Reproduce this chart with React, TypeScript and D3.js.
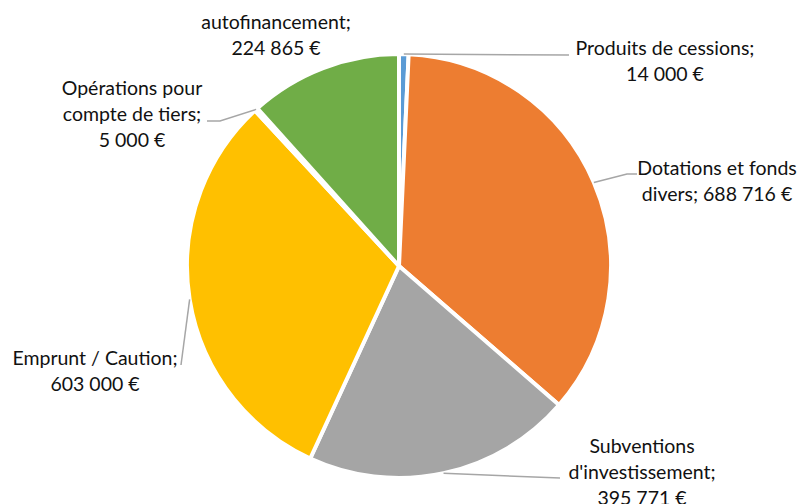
import React from "react";
import * as d3 from "d3";

const categories = [
  "Produits de cessions",
  "Dotations et fonds divers",
  "Subventions d'investissement",
  "Emprunt / Caution",
  "Opérations pour compte de tiers",
  "autofinancement",
];
const values = [14000, 688716, 395771, 603000, 5000, 224865];
const colors = ["#5B9BD5", "#ED7D31", "#A5A5A5", "#FFC000", "#4472C4", "#70AD47"];
const labelLines = [
  ["Produits de cessions;", "14 000 €"],
  ["Dotations et fonds", "divers; 688 716 €"],
  ["Subventions", "d'investissement;", "395 771 €"],
  ["Emprunt / Caution;", "603 000 €"],
  ["Opérations pour", "compte de tiers;", "5 000 €"],
  ["autofinancement;", "224 865 €"],
];

// layout: label centre x, first baseline, leader-line bend points (after slice edge)
const labelLayout = [
  { x: 665, y: 55, leader: [[569, 55]] },
  { x: 717, y: 175, leader: [[627, 174], [637, 174]] },
  { x: 642, y: 453, leader: [[560, 478]] },
  { x: 95, y: 365, leader: [[181, 365]] },
  { x: 132, y: 95, leader: [[220, 121], [207, 121]] },
  { x: 276, y: 29, leader: [] as number[][] },
];

const W = 802;
const H = 504;
const cx = 399;
const cy = 266;
const R = 212;
const lineH = 26;

export default function App() {
  const pie = d3
    .pie<number>()
    .sort(null)
    .value((d) => d)
    .startAngle(0)
    .endAngle(2 * Math.PI);
  const arcs = pie(values);
  const arc = d3.arc<d3.PieArcDatum<number>>().innerRadius(0).outerRadius(R);
  const line = d3.line();

  return (
    <svg
      width={W}
      height={H}
      style={{ position: "absolute", left: 0, top: 0, background: "#fff" }}
      fontFamily="Lato, 'Open Sans', sans-serif"
    >
      <g transform={`translate(${cx},${cy})`}>
        {arcs.map((a, i) => (
          <path key={i} d={arc(a) || ""} fill={colors[i]} stroke="#fff" strokeWidth={4} strokeLinejoin="round" />
        ))}
      </g>
      {arcs.map((a, i) => {
        const lay = labelLayout[i];
        if (!lay.leader.length) return null;
        const mid = (a.startAngle + a.endAngle) / 2;
        const start: [number, number] = [cx + R * Math.sin(mid), cy - R * Math.cos(mid)];
        const pts = [start, ...(lay.leader as [number, number][])];
        return <path key={"l" + i} d={line(pts) || ""} fill="none" stroke="#A6A6A6" strokeWidth={1.5} />;
      })}
      {labelLines.map((lines, i) => (
        <text key={"t" + i} textAnchor="middle" fontSize={19.5} fill="#111">
          {lines.map((s, j) => (
            <tspan key={j} x={labelLayout[i].x} y={labelLayout[i].y + j * lineH}>
              {s}
            </tspan>
          ))}
        </text>
      ))}
    </svg>
  );
}
